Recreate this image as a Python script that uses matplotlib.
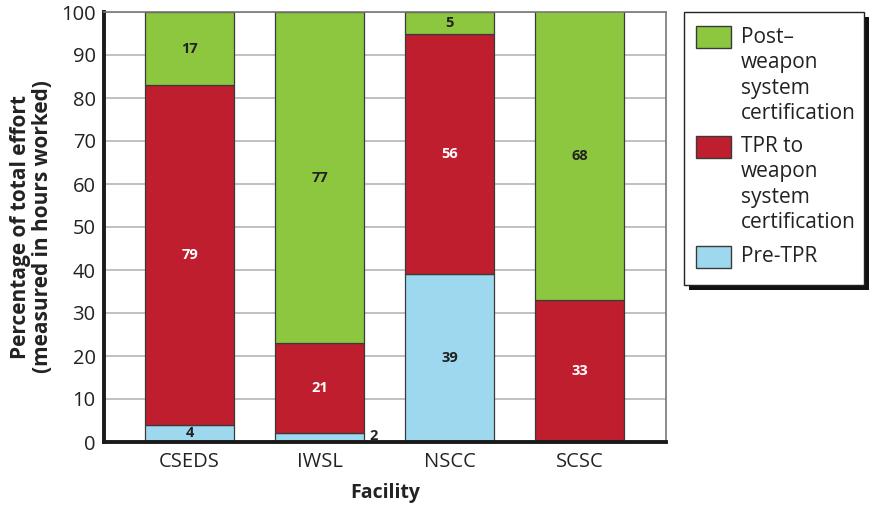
import matplotlib
matplotlib.use('Agg')
import matplotlib.pyplot as plt
from matplotlib.patches import Rectangle
import numpy as np

plt.rcParams['font.family'] = ['Open Sans', 'DejaVu Sans']

facilities = ['CSEDS', 'IWSL', 'NSCC', 'SCSC']
pre_tpr = [4, 2, 39, 0]
tpr_cert = [79, 21, 56, 33]
post_cert = [17, 77, 5, 68]

legend_labels = [['Post\u2013', 'weapon', 'system', 'certification'],
                 ['TPR to', 'weapon', 'system', 'certification'],
                 ['Pre-TPR']]

green = '#8DC63F'
red = '#BE1E2D'
blue = '#9DD8EE'
edge = '#3a3a3a'
txt = '#222222'

W, H = 873, 508
fig = plt.figure(figsize=(W / 100, H / 100), dpi=100)
ax = fig.add_axes([104 / W, 1 - 442 / H, 562 / W, 430 / H])

x = np.arange(len(facilities))
w = 0.685
pre = np.array(pre_tpr)
mid = np.array(tpr_cert)
post = np.array(post_cert)

ax.bar(x, pre, w, color=blue, edgecolor=edge, linewidth=0.9, zorder=2)
ax.bar(x, mid, w, bottom=pre, color=red, edgecolor=edge, linewidth=0.9, zorder=2)
ax.bar(x, post, w, bottom=pre + mid, color=green, edgecolor=edge, linewidth=0.9, zorder=2)

# value labels
for i in range(len(facilities)):
    if pre[i] >= 4:
        ax.text(x[i], pre[i] / 2, str(pre[i]), ha='center', va='center',
                fontsize=10.5, fontweight='bold', color=txt, zorder=3)
    elif pre[i] > 0:
        ax.text(x[i] + w / 2 + 0.04, pre[i] / 2 + 0.3, str(pre[i]), ha='left', va='center',
                fontsize=10.5, fontweight='bold', color=txt, zorder=3)
    ax.text(x[i], pre[i] + mid[i] / 2, str(mid[i]), ha='center', va='center',
            fontsize=10.5, fontweight='bold', color='white', zorder=3)
    top = min(100, pre[i] + mid[i] + post[i])
    ax.text(x[i], (pre[i] + mid[i] + top) / 2, str(post[i]), ha='center', va='center',
            fontsize=10.5, fontweight='bold', color=txt, zorder=3)

ax.set_xlim(-0.658, 3.665)
ax.set_ylim(0, 100)
ax.set_yticks(range(0, 101, 10))
ax.set_xticks(x)
ax.set_xticklabels(facilities)
ax.tick_params(axis='both', length=0, labelsize=14.5, colors=txt)
ax.tick_params(axis='x', pad=7)
ax.tick_params(axis='y', pad=6)
ax.yaxis.grid(True, color='#b5b5b5', linewidth=1.2, zorder=0)
ax.set_axisbelow(True)

ax.spines['left'].set_linewidth(2.8)
ax.spines['left'].set_color('#1a1a1a')
ax.spines['bottom'].set_linewidth(2.8)
ax.spines['bottom'].set_color('#1a1a1a')
for s in ['top', 'right']:
    ax.spines[s].set_linewidth(1.2)
    ax.spines[s].set_color('#777777')

ax.set_xlabel('Facility', fontsize=14, fontweight='bold', color=txt, labelpad=8)
ax.set_ylabel('Percentage of total effort\n(measured in hours worked)', fontsize=15,
              fontweight='bold', color=txt, labelpad=6, linespacing=1.05)


# legend drawn by hand in pixel coordinates (box with solid shadow)
def fx(px):
    return px / W


def fy(py):
    return 1 - py / H


bx0, bx1, by0, by1 = 684, 864, 12, 285
fig.add_artist(Rectangle((fx(bx0 + 5), fy(by1 + 5)), fx(bx1 - bx0), (by1 - by0) / H,
                         transform=fig.transFigure, facecolor='#111111', edgecolor='none'))
fig.add_artist(Rectangle((fx(bx0), fy(by1)), fx(bx1 - bx0), (by1 - by0) / H,
                         transform=fig.transFigure, facecolor='white', edgecolor='#222222',
                         linewidth=1.0))

entry_colors = [green, red, blue]
patch_tops = [26, 136, 246]
first_baselines = [43, 152, 262]
for col, top, base, lines in zip(entry_colors, patch_tops, first_baselines, legend_labels):
    fig.add_artist(Rectangle((fx(696), fy(top + 22)), fx(35), 22 / H,
                             transform=fig.transFigure, facecolor=col, edgecolor=edge,
                             linewidth=1.0))
    for k, line in enumerate(lines):
        fig.text(fx(741), fy(base + 25.3 * k), line, ha='left', va='baseline',
                 fontsize=15, color=txt)

fig.savefig('out.png', dpi=100)
